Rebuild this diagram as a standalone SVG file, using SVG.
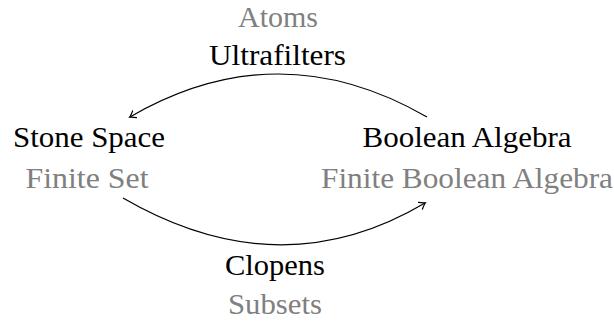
<svg xmlns="http://www.w3.org/2000/svg" width="614" height="322" viewBox="0 0 614 322">
<style>
text{font-size:29px;text-anchor:middle}
.k{fill:#000}
.g{fill:#808080}
.c{fill:none;stroke:#000;stroke-width:1.2}
</style>
<defs>
<marker id="arr" viewBox="-6 -5 8 10" markerWidth="8" markerHeight="10" refX="0" refY="0" orient="auto" markerUnits="userSpaceOnUse">
<path d="M -5.5,-4 Q -1.5,-0.8 0.5,0 Q -1.5,0.8 -5.5,4" fill="none" stroke="#000" stroke-width="1.2" stroke-linecap="round"/>
</marker>
</defs>
<rect width="614" height="322" fill="#fff"/>
<g id="connectors">
<path class="c" d="M 427,117 Q 278,31 130,117" marker-end="url(#arr)"/>
<path class="c" d="M 123,198 Q 280,289 425,203" marker-end="url(#arr)"/>
</g>
<g font-family="Liberation Serif, DejaVu Serif, serif">
<g id="stone">
<text class="k" x="89" y="147" textLength="152" lengthAdjust="spacingAndGlyphs">Stone Space</text>
<text class="g" x="87" y="188" textLength="123" lengthAdjust="spacingAndGlyphs">Finite Set</text>
</g>
<g id="boolean">
<text class="k" x="467" y="147" textLength="209" lengthAdjust="spacingAndGlyphs">Boolean Algebra</text>
<text class="g" x="467" y="188" textLength="292" lengthAdjust="spacingAndGlyphs">Finite Boolean Algebra</text>
</g>
<g id="top-label">
<text class="g" x="278" y="27" textLength="80" lengthAdjust="spacingAndGlyphs">Atoms</text>
<text class="k" x="277.5" y="65" textLength="137" lengthAdjust="spacingAndGlyphs">Ultrafilters</text>
</g>
<g id="bottom-label">
<text class="k" x="275" y="275" textLength="100" lengthAdjust="spacingAndGlyphs">Clopens</text>
<text class="g" x="275" y="314" textLength="94" lengthAdjust="spacingAndGlyphs">Subsets</text>
</g>
</g>
</svg>
